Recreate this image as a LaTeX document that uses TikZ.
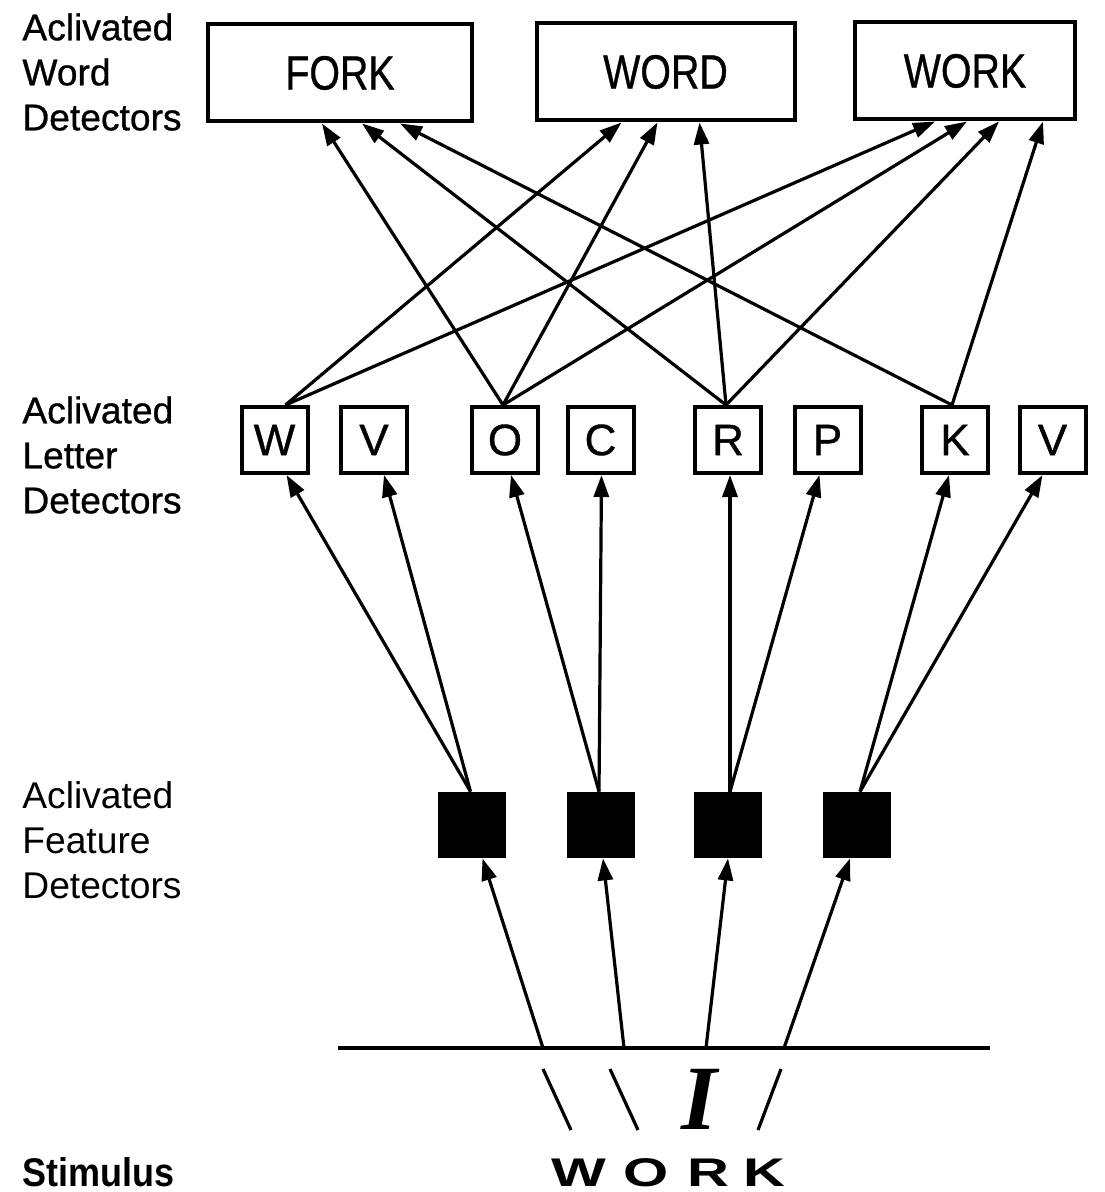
\documentclass[tikz,border=0pt]{standalone}
\usepackage{fontspec}
\usepackage{graphicx}
\setmainfont{Liberation Sans}
\newfontfamily\heavysans[FakeBold=0.8]{Liberation Sans}
\newfontfamily\stimserif{Liberation Serif}
\usetikzlibrary{arrows.meta,calc}

\begin{document}
\begin{tikzpicture}[x=0.5pt,y=-0.5pt,
  conn/.style={line width=1.6pt,-{Triangle[length=11pt,width=7.5pt]}},
  wordbox/.style={draw,line width=2pt,minimum height=48.5pt,inner sep=0pt,
    font=\heavysans\fontsize{24}{24}\selectfont},
  letterbox/.style={draw,line width=2pt,minimum width=33pt,minimum height=33pt,
    inner sep=0pt,font=\heavysans\fontsize{22}{22}\selectfont},
  featbox/.style={fill=black,minimum width=34pt,minimum height=33pt,inner sep=0pt},
  sidelabel/.style={anchor=west,align=left,inner sep=0pt,
    font=\fontsize{18.6}{22.5}\selectfont},
  heavylabel/.style={sidelabel,font=\heavysans\fontsize{18.6}{22.5}\selectfont},
  stroke/.style={line width=1.6pt},
  stimletter/.style={anchor=base,inner sep=0pt,font=\fontsize{20}{20}\selectfont\bfseries},
]
\useasboundingbox (0,0) rectangle (1104,1192);

% level labels
\node[heavylabel] (lab1) at (22,72) {Aclivated\\Word\\Detectors};
\node[heavylabel] (lab2) at (22,455) {Aclivated\\Letter\\Detectors};
\node[sidelabel] (lab3) at (22,840) {Aclivated\\Feature\\Detectors};
\node[anchor=base west,inner sep=0pt,font=\fontsize{20}{22}\selectfont\bfseries] (lab4)
  at (22,1186) {\scalebox{0.9}[1]{Stimulus}};

% word detectors
\node[wordbox,minimum width=132pt] (fork) at (340,73) {\scalebox{0.82}[1]{FORK}};
\node[wordbox,minimum width=129pt] (word) at (665.5,72) {\scalebox{0.82}[1]{WORD}};
\node[wordbox,minimum width=110pt] (work) at (965,71) {\scalebox{0.82}[1]{WORK}};

% letter detectors
\node[letterbox] (lW)  at (274.5,440) {W};
\node[letterbox] (lV1) at (374,440) {V};
\node[letterbox] (lO)  at (505,440) {O};
\node[letterbox] (lC)  at (600.5,440) {C};
\node[letterbox] (lR)  at (728,440) {R};
\node[letterbox] (lP)  at (827.5,440) {P};
\node[letterbox] (lK)  at (955,440) {K};
\node[letterbox] (lV2) at (1052.5,440) {V};

% feature detectors
\node[featbox] (f1) at (471.5,825) {};
\node[featbox] (f2) at (601,825) {};
\node[featbox] (f3) at (728,825) {};
\node[featbox] (f4) at (857,825) {};

% stimulus line and contact points
\coordinate (sl) at (338,1048);
\coordinate (sr) at (990,1048);
\coordinate (s1) at (543,1048);
\coordinate (s2) at (624,1048);
\coordinate (s3) at (706,1048);
\coordinate (s4) at (784,1048);
\draw[line width=1.8pt] (sl) -- (sr);

% stimulus features
\coordinate (b1a) at (543,1069); \coordinate (b1b) at (571,1130);
\coordinate (b2a) at (610,1069); \coordinate (b2b) at (638,1130);
\coordinate (sla) at (781,1069); \coordinate (slb) at (758,1130);
\draw[stroke] (b1a) -- (b1b);
\draw[stroke] (b2a) -- (b2b);
\draw[stroke] (sla) -- (slb);
\node[inner sep=0pt,font=\stimserif\fontsize{46}{46}\selectfont\bfseries\itshape] (bigI) at (699,1099) {I};

% stimulus word
\node[stimletter] (sW) at (579,1186) {\scalebox{1.45}[1]{W}};
\node[stimletter] (sO) at (646.5,1186) {\scalebox{1.45}[1]{O}};
\node[stimletter] (sR) at (708,1186) {\scalebox{1.45}[1]{R}};
\node[stimletter] (sK) at (764.5,1186) {\scalebox{1.45}[1]{K}};

% stimulus -> feature detectors
\draw[conn] (s1) -- ([xshift=5.5pt]f1.south);
\draw[conn] (s2) -- ([xshift=1pt]f2.south);
\draw[conn] (s3) -- ([xshift=0pt]f3.south);
\draw[conn] (s4) -- ([xshift=-3.5pt]f4.south);

% feature -> letter detectors
\draw[conn] ([xshift=-0.5pt]f1.north) -- ([xshift=6pt]lW.south);
\draw[conn] ([xshift=-0.5pt]f1.north) -- ([xshift=5pt]lV1.south);
\draw[conn] ([xshift=-1pt]f2.north) -- ([xshift=3pt]lO.south);
\draw[conn] ([xshift=-1pt]f2.north) -- ([xshift=0.5pt]lC.south);
\draw[conn] ([xshift=1pt]f3.north) -- ([xshift=1pt]lR.south);
\draw[conn] ([xshift=1pt]f3.north) -- ([xshift=-4pt]lP.south);
\draw[conn] ([xshift=1.5pt]f4.north) -- ([xshift=-3pt]lK.south);
\draw[conn] ([xshift=1.5pt]f4.north) -- ([xshift=-5pt]lV2.south);

% letter -> word detectors
\draw[conn] ([xshift=5.5pt]lW.north) -- ([xshift=-22pt]word.south);
\draw[conn] ([xshift=5.5pt]lW.north) -- ([xshift=-15pt]work.south);
\draw[conn] ([xshift=-1pt]lO.north) -- ([xshift=-9pt]fork.south);
\draw[conn] ([xshift=-1pt]lO.north) -- ([xshift=-4pt]word.south);
\draw[conn] ([xshift=-1pt]lO.north) -- ([xshift=1pt]work.south);
\draw[conn] ([xshift=-1pt]lR.north) -- ([xshift=11pt]fork.south);
\draw[conn] ([xshift=-1pt]lR.north) -- ([xshift=17pt]word.south);
\draw[conn] ([xshift=-1pt]lR.north) -- ([xshift=17pt]work.south);
\draw[conn] ([xshift=-1.5pt]lK.north) -- ([xshift=30pt]fork.south);
\draw[conn] ([xshift=-1.5pt]lK.north) -- ([xshift=39pt]work.south);
\end{tikzpicture}
\end{document}
